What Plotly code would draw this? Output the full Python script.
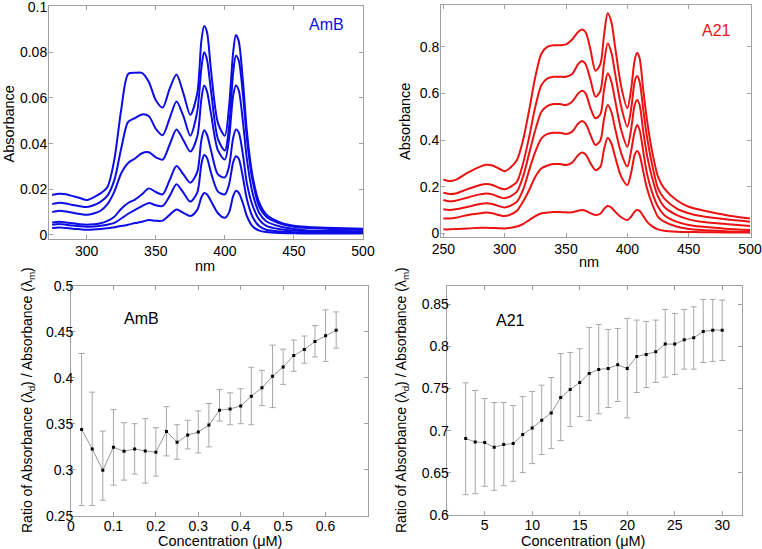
import plotly.graph_objects as go

W, H = 762, 549

# ---------------- AmB spectra ----------------
wl_amb = [275, 280, 285, 290, 295, 300, 305, 310, 315, 320, 325, 330, 335, 340, 345, 350, 355, 360, 365, 370,
          375, 380, 383, 385, 387, 390, 395, 400, 403, 406, 408, 410, 413, 416, 420, 425, 430, 440, 450, 460, 480, 500]
amb_1 = [.0030, .0033, .0030, .0027, .0025, .0023, .0024, .0026, .0029, .0034, .0039, .0045, .0052, .0058, .0065, .0062, .0063, .0088, .0112, .0097,
         .0083, .0110, .0165, .0184, .0178, .0148, .0095, .0075, .0098, .0170, .0193, .0185, .0140, .0082, .0038, .0019, .0013, .0009, .0007, .0006, .0006, .0006]
amb_2 = [.0045, .0048, .0045, .0041, .0038, .0036, .0037, .0040, .0045, .0053, .0072, .0093, .0110, .0126, .0140, .0130, .0127, .0170, .0222, .0185,
         .0146, .0185, .0310, .0350, .0338, .0272, .0190, .0178, .0220, .0318, .0345, .0335, .0255, .0155, .0080, .0038, .0023, .0015, .0012, .0011, .0010, .0010]
amb_3 = [.0055, .0058, .0055, .0051, .0047, .0045, .0047, .0051, .0062, .0080, .0115, .0140, .0155, .0178, .0204, .0188, .0178, .0240, .0302, .0265,
         .0229, .0275, .0415, .0459, .0440, .0370, .0265, .0252, .0300, .0425, .0462, .0450, .0355, .0225, .0130, .0066, .0040, .0025, .0019, .0016, .0015, .0013]
amb_4 = [.0100, .0106, .0103, .0097, .0092, .0088, .0094, .0106, .0135, .0190, .0270, .0315, .0335, .0358, .0362, .0340, .0330, .0395, .0462, .0415,
         .0365, .0430, .0595, .0655, .0630, .0530, .0370, .0330, .0420, .0610, .0655, .0635, .0500, .0330, .0185, .0095, .0060, .0037, .0026, .0020, .0017, .0015]
amb_5 = [.0135, .0141, .0138, .0131, .0126, .0122, .0130, .0145, .0172, .0240, .0380, .0495, .0512, .0528, .0520, .0465, .0437, .0510, .0585, .0520,
         .0435, .0540, .0730, .0800, .0770, .0630, .0420, .0370, .0470, .0710, .0785, .0765, .0620, .0420, .0240, .0122, .0080, .0050, .0036, .0030, .0025, .0022]
amb_6 = [.0175, .0180, .0178, .0170, .0162, .0153, .0165, .0182, .0210, .0330, .0550, .0705, .0710, .0710, .0670, .0590, .0558, .0640, .0703, .0620,
         .0526, .0620, .0850, .0915, .0890, .0720, .0490, .0435, .0560, .0800, .0876, .0850, .0680, .0450, .0260, .0140, .0090, .0055, .0040, .0035, .0030, .0027]

# ---------------- A21 spectra ----------------
wl_a21 = [250, 255, 260, 270, 280, 285, 290, 295, 300, 305, 310, 315, 320, 325, 330, 335, 340, 345, 350, 355,
          360, 363, 366, 370, 374, 378, 381, 384, 387, 390, 395, 400, 403, 406, 408, 410, 413, 416, 420, 425,
          430, 440, 450, 460, 480, 500]
a21_1 = [.017, .017, .019, .021, .024, .024, .023, .022, .021, .024, .029, .040, .057, .074, .086, .089, .091, .091, .090, .090,
         .097, .100, .097, .086, .079, .084, .105, .117, .110, .093, .069, .057, .071, .093, .100, .096, .074, .050, .031, .017,
         .011, .007, .006, .005, .004, .004]
a21_2 = [.064, .064, .067, .079, .086, .089, .086, .079, .074, .081, .097, .136, .186, .243, .279, .291, .297, .297, .293, .303,
         .336, .346, .338, .300, .271, .285, .360, .410, .385, .329, .243, .207, .257, .336, .353, .336, .264, .193, .129, .071,
         .050, .029, .019, .014, .009, .006]
a21_3 = [.103, .100, .103, .114, .126, .129, .126, .117, .111, .119, .136, .186, .271, .350, .407, .426, .431, .431, .426, .436,
         .471, .481, .470, .421, .379, .398, .490, .550, .520, .450, .343, .286, .350, .436, .464, .443, .350, .257, .179, .114,
         .079, .050, .036, .029, .020, .014]
a21_4 = [.143, .137, .140, .154, .167, .171, .167, .157, .150, .160, .179, .243, .343, .443, .521, .546, .554, .554, .550, .564,
         .600, .611, .600, .536, .493, .510, .615, .686, .650, .571, .443, .371, .443, .550, .571, .550, .436, .336, .243, .157,
         .114, .079, .060, .050, .040, .031]
a21_5 = [.174, .169, .171, .190, .207, .211, .207, .196, .189, .200, .221, .300, .414, .543, .636, .664, .671, .671, .671, .683,
         .726, .739, .725, .657, .586, .610, .730, .814, .775, .686, .543, .457, .529, .650, .674, .650, .529, .414, .300, .193,
         .150, .107, .086, .074, .060, .050]
a21_6 = [.231, .224, .229, .260, .286, .294, .291, .279, .266, .283, .314, .400, .529, .671, .771, .800, .806, .806, .810, .831,
         .864, .874, .862, .786, .697, .725, .850, .943, .905, .800, .629, .536, .614, .743, .774, .750, .614, .486, .357, .243,
         .193, .143, .114, .100, .079, .064]

# ---------------- ratio vs concentration ----------------
conc_amb = [0.025, 0.05, 0.075, 0.1, 0.125, 0.15, 0.175, 0.2, 0.225, 0.25, 0.275, 0.3, 0.325, 0.35, 0.375, 0.4,
            0.425, 0.45, 0.475, 0.5, 0.525, 0.55, 0.575, 0.6, 0.625]
ratio_amb = [0.3438, 0.3226, 0.2993, 0.3245, 0.3200, 0.3226, 0.3204, 0.3190, 0.3416, 0.3299, 0.3376, 0.3409, 0.3485,
             0.3646, 0.3661, 0.3693, 0.3799, 0.3890, 0.4015, 0.4117, 0.4241, 0.4307, 0.4394, 0.4456, 0.4515]
upper_amb = [0.4263, 0.3843, 0.3420, 0.3653, 0.3511, 0.3500, 0.3555, 0.3456, 0.3686, 0.3489, 0.3537, 0.3639, 0.3719,
             0.3872, 0.3836, 0.3880, 0.4113, 0.4080, 0.4354, 0.4310, 0.4409, 0.4453, 0.4566, 0.4737, 0.4715]
lower_amb = [0.2610, 0.2610, 0.2668, 0.2832, 0.2887, 0.2953, 0.2854, 0.2930, 0.3150, 0.3113, 0.3226, 0.3182, 0.3248,
             0.3529, 0.3489, 0.3500, 0.3489, 0.3697, 0.3675, 0.3927, 0.4069, 0.4157, 0.4226, 0.4175, 0.4321]

conc_a21 = list(range(3, 31))
ratio_a21 = [0.6907, 0.6867, 0.6859, 0.6804, 0.6835, 0.6847, 0.6954, 0.7033, 0.7124, 0.7211, 0.7394, 0.7489, 0.7572, 0.7679,
             0.7726, 0.7738, 0.7781, 0.7738, 0.7880, 0.7904, 0.7936, 0.8027, 0.8027, 0.8078, 0.8102, 0.8177, 0.8193, 0.8193]
upper_a21 = [0.7568, 0.7477, 0.7382, 0.7334, 0.7334, 0.7298, 0.7405, 0.7465, 0.7540, 0.7631, 0.7916, 0.7928, 0.7972, 0.8225,
             0.8260, 0.8201, 0.8213, 0.8332, 0.8312, 0.8296, 0.8312, 0.8439, 0.8391, 0.8439, 0.8470, 0.8557, 0.8557, 0.8549]
lower_a21 = [0.6241, 0.6253, 0.6340, 0.6293, 0.6348, 0.6400, 0.6503, 0.6610, 0.6717, 0.6788, 0.6883, 0.7049, 0.7168, 0.7120,
             0.7200, 0.7275, 0.7346, 0.7152, 0.7453, 0.7512, 0.7572, 0.7635, 0.7667, 0.7730, 0.7730, 0.7809, 0.7821, 0.7833]

BLUE = "rgb(12,12,230)"
RED = "rgb(236,18,18)"
AXC = "#a0a0a0"
FONT = "Arial, Liberation Sans, Helvetica, sans-serif"

fig = go.Figure()

for ys in [amb_1, amb_2, amb_3, amb_4, amb_5, amb_6]:
    fig.add_trace(go.Scatter(x=wl_amb, y=ys, mode="lines", xaxis="x", yaxis="y",
                             line=dict(color=BLUE, width=2, shape="spline", smoothing=0.8),
                             showlegend=False, hoverinfo="skip"))
for ys in [a21_1, a21_2, a21_3, a21_4, a21_5, a21_6]:
    fig.add_trace(go.Scatter(x=wl_a21, y=ys, mode="lines", xaxis="x2", yaxis="y2",
                             line=dict(color=RED, width=2, shape="spline", smoothing=0.8),
                             showlegend=False, hoverinfo="skip"))


def ratio_trace(xs, ys, up, lo, xa, ya):
    return go.Scatter(
        x=xs, y=ys, mode="lines+markers", xaxis=xa, yaxis=ya, showlegend=False,
        line=dict(color="#7a7a7a", width=0.8),
        marker=dict(symbol="square", size=3, color="black"),
        error_y=dict(type="data", symmetric=False,
                     array=[u - v for u, v in zip(up, ys)],
                     arrayminus=[v - l for v, l in zip(ys, lo)],
                     color="#a8a8a8", thickness=1, width=3))


fig.add_trace(ratio_trace(conc_amb, ratio_amb, upper_amb, lower_amb, "x3", "y3"))
fig.add_trace(ratio_trace(conc_a21, ratio_a21, upper_a21, lower_a21, "x4", "y4"))


def px_x(a, b):
    return [a / W, b / W]


def px_y(top, bot):
    return [1 - bot / H, 1 - top / H]


common = dict(showline=True, mirror="ticks", linecolor=AXC, linewidth=1, ticks="inside",
              ticklen=4, tickcolor=AXC, tickwidth=1, showgrid=False, zeroline=False,
              automargin=False, ticklabeloverflow="allow",
              tickfont=dict(family=FONT, size=14, color="black"))
xc_top = dict(common, ticklabelstandoff=-1)
yc_top = dict(common, ticklabelstandoff=-2)
xc_bot = dict(common, ticklabelstandoff=-3)
yc_bot = dict(common, ticklabelstandoff=-6)

fig.update_layout(
    template="none",
    width=W, height=H, margin=dict(l=0, r=0, t=0, b=0, pad=0),
    paper_bgcolor="white", plot_bgcolor="white", showlegend=False,
    font=dict(family=FONT, color="black"),
    xaxis=dict(domain=px_x(49, 363), anchor="y", range=[272.7, 500],
               tickvals=[300, 350, 400, 450, 500], **xc_top),
    yaxis=dict(domain=px_y(5.7, 239.3), anchor="x", range=[-0.0019, 0.1004],
               tickvals=[0, 0.02, 0.04, 0.06, 0.08, 0.1],
               ticktext=["0", "0.02", "0.04", "0.06", "0.08", "0.1"], **yc_top),
    xaxis2=dict(domain=px_x(441, 751), anchor="y2", range=[248.1, 500.8],
                tickvals=[250, 300, 350, 400, 450, 500], **xc_top),
    yaxis2=dict(domain=px_y(4.7, 237.3), anchor="x2", range=[-0.017, 0.98],
                tickvals=[0, 0.2, 0.4, 0.6, 0.8], ticktext=["0", "0.2", "0.4", "0.6", "0.8"], **yc_top),
    xaxis3=dict(domain=px_x(71, 368), anchor="y3", range=[0, 0.7],
                tickvals=[0, 0.1, 0.2, 0.3, 0.4, 0.5, 0.6],
                ticktext=["0", "0.1", "0.2", "0.3", "0.4", "0.5", "0.6"], **xc_bot),
    yaxis3=dict(domain=px_y(285.7, 515.7), anchor="x3", range=[0.25, 0.5],
                tickvals=[0.25, 0.3, 0.35, 0.4, 0.45, 0.5],
                ticktext=["0.25", "0.3", "0.35", "0.4", "0.45", "0.5"], **yc_bot),
    xaxis4=dict(domain=px_x(446.7, 741.7), anchor="y4", range=[1, 32.05],
                tickvals=[5, 10, 15, 20, 25, 30], **xc_bot),
    yaxis4=dict(domain=px_y(285.7, 515), anchor="x4", range=[0.6, 0.872],
                tickvals=[0.6, 0.65, 0.7, 0.75, 0.8, 0.85],
                ticktext=["0.6", "0.65", "0.7", "0.75", "0.8", "0.85"], **yc_bot),
)


def ann(text, x, y, size=14.5, color="black", angle=0):
    fig.add_annotation(text=text, x=x / W, y=1 - y / H, xref="paper", yref="paper",
                       showarrow=False, textangle=angle, xanchor="center", yanchor="middle",
                       font=dict(family=FONT, size=size, color=color))


ann("AmB", 326, 25, size=16, color=BLUE)
ann("A21", 716, 31, size=16, color=RED)
ann("AmB", 141, 318, size=16)
ann("A21", 510, 320, size=16)
ann("Absorbance", 8.5, 124, angle=-90)
ann("Absorbance", 405, 122, angle=-90)
ann("nm", 205, 266)
ann("nm", 589, 262)
ytitle = "Ratio of Absorbance (λ<sub>d</sub>) / Absorbance (λ<sub>m</sub>)"
ann(ytitle, 28, 400, size=14, angle=-90)
ann(ytitle, 402, 400, size=14, angle=-90)
ann("Concentration (μM)", 220, 540.5, size=14.5)
ann("Concentration (μM)", 583, 540.5, size=14.5)

fig.write_html("out.html", config={"displayModeBar": False},
               post_script="document.body.style.margin='0';document.body.style.padding='0';"
                           "document.documentElement.style.overflow='hidden';")
